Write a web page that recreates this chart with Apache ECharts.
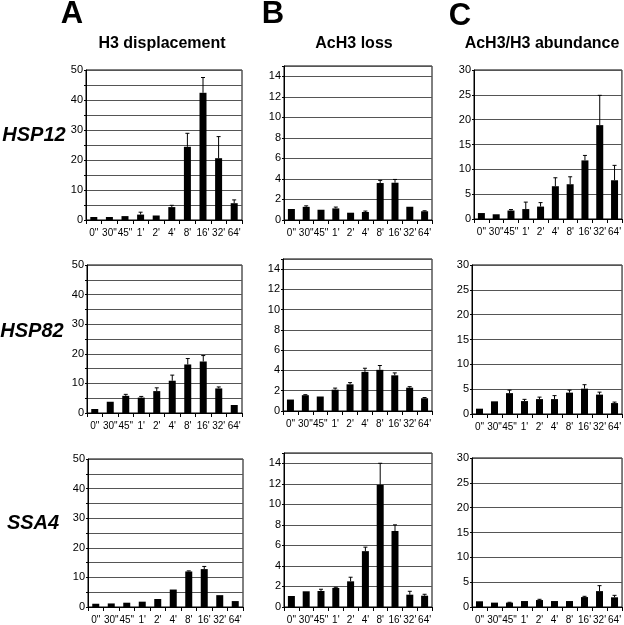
<!DOCTYPE html>
<html>
<head>
<meta charset="utf-8">
<script src="https://cdn.jsdelivr.net/npm/echarts@6/dist/echarts.min.js"></script>
<style>
html,body{margin:0;padding:0;background:#fff;}
#chart{width:624px;height:625px;}
</style>
</head>
<body>
<div id="chart"></div>
<script>
// ---------- DATA ----------
const categories = ['0"', '30"', '45"', "1'", "2'", "4'", "8'", "16'", "32'", "64'"];
const genes = ['HSP12', 'HSP82', 'SSA4'];
const panelLetters = ['A', 'B', 'C'];
const panelTitles = ['H3 displacement', 'AcH3 loss', 'AcH3/H3 abundance'];

// HSP12
const hsp12_h3 = [1.0, 1.0, 1.3, 1.8, 1.5, 4.3, 24.4, 42.4, 20.6, 5.6];
const hsp12_h3_err = [0, 0, 0, 0.8, 0, 0.6, 4.5, 5.1, 7.2, 1.1];
const hsp12_ac = [1.07, 1.28, 1.0, 1.13, 0.71, 0.78, 3.6, 3.63, 1.29, 0.85];
const hsp12_ac_err = [0, 0.1, 0, 0.13, 0, 0.09, 0.26, 0.32, 0, 0.05];
const hsp12_ratio = [1.2, 0.95, 1.7, 2.0, 2.5, 6.6, 7.0, 11.8, 18.9, 7.8];
const hsp12_ratio_err = [0, 0, 0.2, 1.4, 0.8, 1.7, 1.5, 1.0, 6.0, 3.0];

// HSP82
const hsp82_h3 = [1.35, 3.8, 5.8, 5.2, 7.4, 10.9, 16.4, 17.4, 8.3, 2.7];
const hsp82_h3_err = [0, 0, 0.5, 0.4, 1.1, 1.9, 2.0, 2.0, 0.5, 0];
const hsp82_ac = [1.13, 1.56, 1.43, 2.1, 2.63, 3.86, 4.06, 3.52, 2.3, 1.26];
const hsp82_ac_err = [0, 0.05, 0, 0.16, 0.17, 0.36, 0.43, 0.24, 0.1, 0.07];
const hsp82_ratio = [1.07, 2.55, 4.2, 2.6, 3.0, 3.0, 4.3, 5.1, 3.9, 2.2];
const hsp82_ratio_err = [0, 0, 0.6, 0.35, 0.4, 0.7, 0.5, 0.8, 0.5, 0.2];

// SSA4
const ssa4_h3 = [1.1, 1.2, 1.45, 1.8, 2.7, 5.9, 12.0, 12.8, 4.0, 2.0];
const ssa4_h3_err = [0, 0, 0, 0, 0, 0, 0.2, 0.9, 0, 0];
const ssa4_ac = [1.07, 1.53, 1.56, 1.86, 2.5, 5.44, 11.9, 7.4, 1.2, 1.1];
const ssa4_ac_err = [0, 0, 0.17, 0.06, 0.4, 0.39, 2.1, 0.6, 0.33, 0.14];
const ssa4_ratio = [1.15, 0.88, 0.88, 1.2, 1.4, 1.2, 1.2, 2.0, 3.2, 1.95];
const ssa4_ratio_err = [0, 0, 0.07, 0, 0.15, 0, 0, 0.15, 1.1, 0.4];

// y-axis tick settings per column
const yMax = [50, 15, 30];
const yInterval = [5, 2, 5];
const yLabelStep = [10, 2, 5];

// ---------- LAYOUT ----------
const panels = [
  // row 1
  {left: 86, top: 70, width: 156, height: 150, v: hsp12_h3, e: hsp12_h3_err, col: 0},
  {left: 284, top: 66, width: 148, height: 154, v: hsp12_ac, e: hsp12_ac_err, col: 1},
  {left: 474, top: 70, width: 149, height: 149, v: hsp12_ratio, e: hsp12_ratio_err, col: 2},
  // row 2
  {left: 87, top: 265, width: 155, height: 148, v: hsp82_h3, e: hsp82_h3_err, col: 0},
  {left: 283, top: 259, width: 149, height: 152, v: hsp82_ac, e: hsp82_ac_err, col: 1},
  {left: 472, top: 265, width: 151, height: 149, v: hsp82_ratio, e: hsp82_ratio_err, col: 2},
  // row 3
  {left: 88, top: 459, width: 155, height: 149, v: ssa4_h3, e: ssa4_h3_err, col: 0},
  {left: 284, top: 453, width: 148, height: 154, v: ssa4_ac, e: ssa4_ac_err, col: 1},
  {left: 472, top: 458, width: 151, height: 149, v: ssa4_ratio, e: ssa4_ratio_err, col: 2}
];

const FONT = "'Liberation Sans', Arial, Helvetica, sans-serif";

const grids = [], xAxes = [], yAxes = [], series = [];
panels.forEach((p, i) => {
  grids.push({
    left: p.left, top: p.top, width: p.width, height: p.height,
    show: true, borderColor: '#000', borderWidth: 1, backgroundColor: 'transparent',
    containLabel: false
  });
  xAxes.push({
    type: 'category', gridIndex: i, data: categories, boundaryGap: true,
    axisLine: {lineStyle: {color: '#000', width: 1}},
    axisTick: {show: true, length: 4, lineStyle: {color: '#000'}},
    axisLabel: {interval: 0, fontSize: 10, color: '#000', fontFamily: FONT, margin: 8},
    splitLine: {show: false}
  });
  const c = p.col;
  yAxes.push({
    type: 'value', gridIndex: i, min: 0, max: yMax[c], interval: yInterval[c],
    axisLine: {show: true, lineStyle: {color: '#000', width: 1}},
    axisTick: {show: true, length: 2, lineStyle: {color: '#000'}},
    axisLabel: {
      fontSize: 11, color: '#000', fontFamily: FONT, margin: 3,
      formatter: (v) => (v % yLabelStep[c] === 0) ? String(v) : ''
    },
    splitLine: {show: true, lineStyle: {color: '#555', width: 1}}
  });
  series.push({
    type: 'bar', xAxisIndex: i, yAxisIndex: i, data: p.v, barWidth: 7,
    itemStyle: {color: '#000'}, silent: true, animation: false
  });
  series.push({
    type: 'custom', xAxisIndex: i, yAxisIndex: i, z: 5, silent: true, animation: false,
    data: p.v.map((val, j) => [j, val, p.e[j]]),
    encode: {x: 0, y: 1},
    renderItem: function (params, api) {
      const x = api.value(0), val = api.value(1), err = api.value(2);
      if (!err) return null;
      const a = api.coord([x, val]);
      const b = api.coord([x, val + err]);
      return {
        type: 'group',
        children: [
          {type: 'line', shape: {x1: a[0], y1: a[1], x2: b[0], y2: b[1]}, style: {stroke: '#000', lineWidth: 1}},
          {type: 'line', shape: {x1: b[0] - 2, y1: b[1], x2: b[0] + 2, y2: b[1]}, style: {stroke: '#000', lineWidth: 1}}
        ]
      };
    }
  });
});

const letterPos = [[72, 14], [273, 14], [460, 16]];
const titlePos = [[162, 44], [354, 44], [542, 44]];
const genePos = [[34, 135], [32, 331], [33, 523]];

const graphics = [];
panelLetters.forEach((t, k) => graphics.push({
  type: 'text', x: letterPos[k][0], y: letterPos[k][1],
  style: {text: t, font: "bold 31px " + FONT, fill: '#000', align: 'center', verticalAlign: 'middle', textAlign: 'center', textVerticalAlign: 'middle'}
}));
panelTitles.forEach((t, k) => graphics.push({
  type: 'text', x: titlePos[k][0], y: titlePos[k][1],
  style: {text: t, font: "bold 16px " + FONT, fill: '#000', align: 'center', verticalAlign: 'middle', textAlign: 'center', textVerticalAlign: 'middle'}
}));
genes.forEach((t, k) => graphics.push({
  type: 'text', x: genePos[k][0], y: genePos[k][1],
  style: {text: t, font: "italic bold 20px " + FONT, fill: '#000', align: 'center', verticalAlign: 'middle', textAlign: 'center', textVerticalAlign: 'middle'}
}));

const chart = echarts.init(document.getElementById('chart'), null, {renderer: 'canvas'});
chart.setOption({
  animation: false,
  backgroundColor: '#fff',
  grid: grids,
  xAxis: xAxes,
  yAxis: yAxes,
  series: series,
  graphic: graphics
});
</script>
</body>
</html>
